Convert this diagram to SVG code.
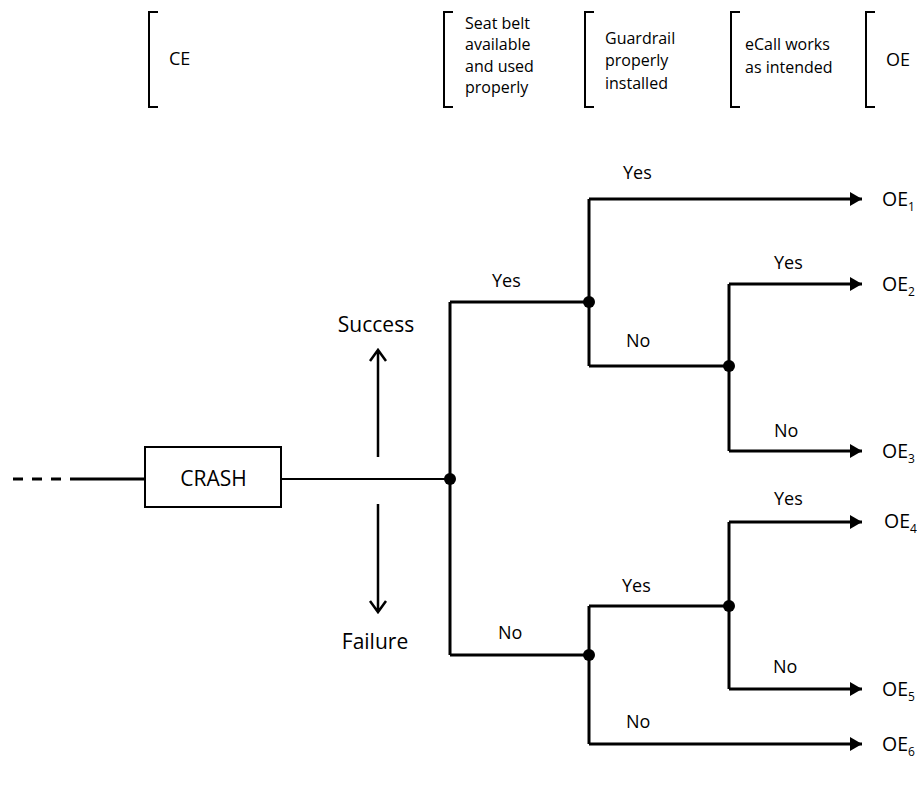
<svg xmlns="http://www.w3.org/2000/svg" width="917" height="787" viewBox="0 0 917 787">
<defs>
<style>
text{font-family:"Open Sans","Liberation Sans",sans-serif;fill:#000}
.hd{font-size:16px}
.hl{font-size:18px}
.lb{font-size:18px}
.big{font-size:21px}
.oe{font-size:19.5px}
.sub{font-size:12px}
.br{fill:none;stroke:#000;stroke-width:2}
.ln{fill:none;stroke:#000;stroke-width:3}
.ar{fill:none;stroke:#000;stroke-width:3;marker-end:url(#tri)}
.dot{fill:#000}
</style>
<marker id="tri" viewBox="0 0 12 14" refX="12" refY="7" markerWidth="12" markerHeight="14" markerUnits="userSpaceOnUse" orient="auto">
<path d="M0,0 L12,7 L0,14 Z" fill="#000"/>
</marker>
</defs>
<rect width="917" height="787" fill="#fff"/>

<g id="headers">
<g id="h-ce"><path class="br" d="M158,12 H149 V107 H158"/><text class="hl" x="169" y="65">CE</text></g>
<g id="h-seatbelt"><path class="br" d="M453,12 H444 V107 H453"/>
<text class="hd" x="465" y="28.5">Seat belt</text><text class="hd" x="465" y="50">available</text><text class="hd" x="465" y="72">and used</text><text class="hd" x="465" y="93">properly</text></g>
<g id="h-guardrail"><path class="br" d="M594,12 H585 V107 H594"/>
<text class="hd" x="605" y="43.5">Guardrail</text><text class="hd" x="605" y="66">properly</text><text class="hd" x="605" y="89">installed</text></g>
<g id="h-ecall"><path class="br" d="M740,12 H731 V107 H740"/>
<text class="hd" x="745" y="50">eCall works</text><text class="hd" x="745" y="73">as intended</text></g>
<g id="h-oe"><path class="br" d="M875,12 H866 V107 H875"/><text class="hl" x="886" y="66">OE</text></g>
</g>

<g id="connectors">
<line x1="13" y1="479" x2="70" y2="479" stroke="#000" stroke-width="3" stroke-dasharray="10 9"/>
<line x1="70" y1="479" x2="145" y2="479" stroke="#000" stroke-width="3"/>
<line x1="281" y1="479" x2="450" y2="479" stroke="#000" stroke-width="2"/>
<path class="ln" d="M450,302 V655"/>
<path class="ln" d="M450,302 H589"/>
<path class="ln" d="M450,655 H589"/>
<path class="ln" d="M589,199 V366"/>
<path class="ar" d="M589,199 H862"/>
<path class="ln" d="M589,366 H729"/>
<path class="ln" d="M729,284 V451"/>
<path class="ar" d="M729,284 H862"/>
<path class="ar" d="M729,451 H862"/>
<path class="ln" d="M589,606 V744"/>
<path class="ln" d="M589,606 H729"/>
<path class="ar" d="M589,744 H862"/>
<path class="ln" d="M729,522 V689"/>
<path class="ar" d="M729,522 H862"/>
<path class="ar" d="M729,689 H862"/>
<path fill="none" stroke="#000" stroke-width="2.5" d="M378,457 V350 M370,361 L378,350 L386,361"/>
<path fill="none" stroke="#000" stroke-width="2.5" d="M378,504 V612 M370,601 L378,612 L386,601"/>
</g>

<g id="dots">
<circle class="dot" cx="450" cy="479" r="6"/>
<circle class="dot" cx="589" cy="302" r="6"/>
<circle class="dot" cx="729" cy="366" r="6"/>
<circle class="dot" cx="589" cy="655" r="6"/>
<circle class="dot" cx="729" cy="606" r="6"/>
</g>

<g id="crash"><rect x="145" y="447" width="136" height="60" fill="#fff" stroke="#000" stroke-width="2"/><text class="big" x="213.5" y="486" text-anchor="middle">CRASH</text></g>
<g id="success"><text class="big" x="376" y="332" text-anchor="middle">Success</text></g>
<g id="failure"><text class="big" x="375" y="649" text-anchor="middle">Failure</text></g>

<g id="labels">
<text class="lb" x="492" y="287">Yes</text>
<text class="lb" x="498" y="639">No</text>
<text class="lb" x="623" y="179">Yes</text>
<text class="lb" x="626" y="347">No</text>
<text class="lb" x="774" y="269">Yes</text>
<text class="lb" x="774" y="437">No</text>
<text class="lb" x="622" y="592">Yes</text>
<text class="lb" x="626" y="728">No</text>
<text class="lb" x="774" y="505">Yes</text>
<text class="lb" x="773" y="673">No</text>
</g>

<g id="outcomes">
<g id="oe1"><text class="oe" x="882" y="206">OE<tspan class="sub" dy="5">1</tspan></text></g>
<g id="oe2"><text class="oe" x="882" y="291">OE<tspan class="sub" dy="5">2</tspan></text></g>
<g id="oe3"><text class="oe" x="882" y="458">OE<tspan class="sub" dy="5">3</tspan></text></g>
<g id="oe4"><text class="oe" x="884" y="528">OE<tspan class="sub" dy="5">4</tspan></text></g>
<g id="oe5"><text class="oe" x="882" y="696">OE<tspan class="sub" dy="5">5</tspan></text></g>
<g id="oe6"><text class="oe" x="882" y="751">OE<tspan class="sub" dy="5">6</tspan></text></g>
</g>
</svg>
